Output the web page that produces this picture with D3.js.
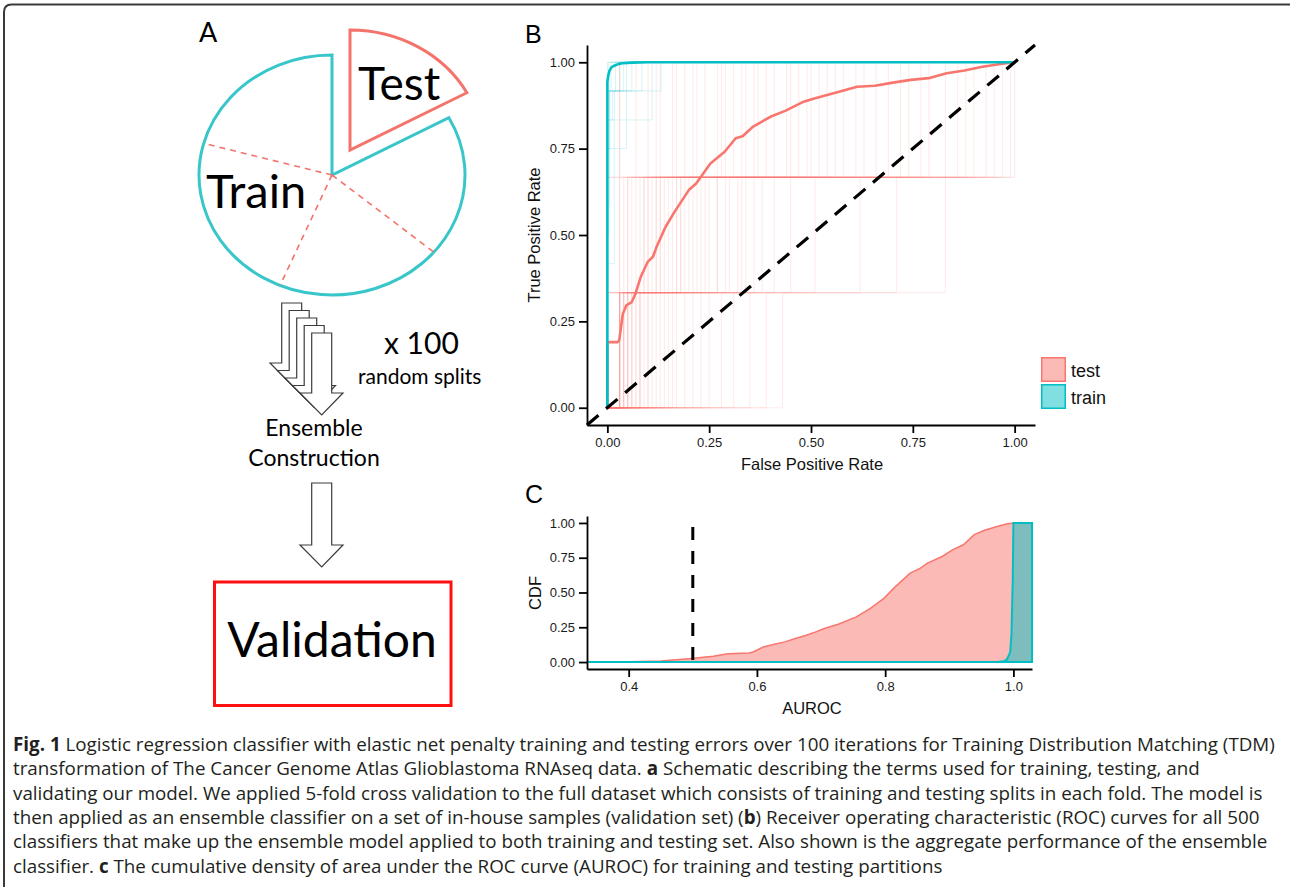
<!DOCTYPE html>
<html>
<head>
<meta charset="utf-8">
<script src="https://cdn.jsdelivr.net/npm/d3@7"></script>
<style>
  body { margin: 0; background: #fff; }
  svg { display: block; }
  text { white-space: pre; }
</style>
</head>
<body>
<svg id="fig" width="1290" height="887"></svg>
<script>
// ---------- data ----------
// panel A: fold boundaries of the pie, degrees clockwise from 12 o'clock
var foldBounds = [0, 61.5, 130, 203, 285.3, 360];
var splitCount = 5;

// panel B: ensemble ROC curves
var testFpr = [0, 0, 0.025, 0.029, 0.038, 0.047, 0.06, 0.069, 0.082, 0.099, 0.112, 0.121, 0.143, 0.165, 0.2, 0.218, 0.253, 0.288, 0.315, 0.332, 0.358, 0.402, 0.438, 0.482, 0.508, 0.569, 0.613, 0.657, 0.701, 0.745, 0.789, 0.833, 0.877, 0.921, 0.965, 1.0];
var testTpr = [0, 0.19, 0.19, 0.195, 0.272, 0.297, 0.306, 0.33, 0.379, 0.422, 0.437, 0.466, 0.524, 0.567, 0.63, 0.649, 0.707, 0.741, 0.78, 0.786, 0.814, 0.843, 0.86, 0.886, 0.895, 0.915, 0.929, 0.932, 0.941, 0.949, 0.954, 0.968, 0.976, 0.987, 0.995, 1.0];
var trainFpr = [0, 0, 0.002, 0.005, 0.01, 0.017, 0.025, 0.037, 0.06, 0.1, 1.0];
var trainTpr = [0, 0.943, 0.96, 0.975, 0.985, 0.99, 0.994, 0.997, 0.999, 1.0, 1.0];

// individual test classifiers: FPR where TPR steps to 1/3, 2/3, 1
var testCurves = [
  [0, 0, 0.03], [0, 0, 0.13], [0, 0.03, 0.07], [0, 0.05, 0.21], [0, 0.10, 0.36], [0, 0.17, 0.58],
  [0.03, 0.03, 0.03], [0.03, 0.04, 0.10], [0.03, 0.06, 0.24], [0.03, 0.09, 0.41], [0.03, 0.13, 0.19],
  [0.03, 0.20, 0.66], [0.03, 0.33, 0.90], [0.04, 0.05, 0.16], [0.04, 0.08, 0.31], [0.04, 0.15, 0.47],
  [0.04, 0.27, 0.74], [0.05, 0.07, 0.12], [0.05, 0.11, 0.29], [0.05, 0.19, 0.52], [0.05, 0.12, 0.99],
  [0.06, 0.09, 0.22], [0.06, 0.14, 0.39], [0.06, 0.38, 0.97], [0.07, 0.10, 0.17], [0.07, 0.22, 0.61],
  [0.08, 0.12, 0.34], [0.08, 0.29, 0.45], [0.08, 0.18, 0.95], [0.09, 0.16, 0.27], [0.10, 0.13, 0.50],
  [0.10, 0.25, 0.83], [0.11, 0.18, 0.37], [0.12, 0.21, 0.28], [0.13, 0.32, 0.69], [0.14, 0.17, 0.44],
  [0.15, 0.24, 0.56], [0.16, 0.41, 0.79], [0.17, 0.23, 0.33], [0.19, 0.30, 0.63], [0.21, 0.36, 0.49],
  [0.23, 0.27, 0.86], [0.25, 0.45, 0.72], [0.28, 0.34, 0.54], [0.31, 0.51, 0.93], [0.35, 0.62, 0.77],
  [0.39, 0.71, 0.88], [0.43, 0.83, 1.00]
];
// individual train classifiers: [FPR, TPR reached] steps
var trainCurves = [
  [[0, 0.917], [0.132, 1]],
  [[0, 0.833], [0.11, 1]],
  [[0, 0.75], [0.047, 1]],
  [[0, 0.417], [0.017, 0.917], [0.03, 1]],
  [[0, 0.5], [0.004, 1]],
  [[0, 0.583], [0.005, 0.917], [0.02, 1]],
  [[0, 0.917], [0.009, 1]],
  [[0, 0.833], [0.013, 0.917], [0.06, 1]],
  [[0, 0.917], [0.04, 1]],
  [[0, 0.75], [0.006, 0.917], [0.085, 1]],
  [[0, 1]]
];
var rocTicks = [0, 0.25, 0.5, 0.75, 1];

// panel C: CDF of AUROC
var aurocTest = [0.335, 0.40, 0.45, 0.494, 0.532, 0.555, 0.588, 0.594, 0.61, 0.627, 0.644, 0.66, 0.677, 0.688, 0.705, 0.727, 0.755, 0.777, 0.798, 0.816, 0.839, 0.855, 0.866, 0.889, 0.905, 0.922, 0.939, 0.955, 0.972, 0.989, 1.0, 1.029];
var cdfTest = [0, 0.003, 0.008, 0.024, 0.041, 0.06, 0.065, 0.072, 0.108, 0.128, 0.145, 0.169, 0.193, 0.21, 0.241, 0.272, 0.325, 0.386, 0.458, 0.542, 0.639, 0.675, 0.711, 0.759, 0.807, 0.843, 0.916, 0.947, 0.971, 0.993, 1.0, 1.0];
var aurocTrain = [0.335, 0.975, 0.985, 0.99, 0.995, 0.997, 0.999, 1.0, 1.029];
var cdfTrain = [0, 0, 0.005, 0.02, 0.07, 0.2, 0.6, 1.0, 1.0];
var aurocTicks = [0.4, 0.6, 0.8, 1.0];
var cdfTicks = [0, 0.25, 0.5, 0.75, 1];
var chanceAuroc = 0.5;

var legendLabels = ["test", "train"];

var captionLines = [
  [["Fig. 1", 1], [" Logistic regression classifier with elastic net penalty training and testing errors over 100 iterations for Training Distribution Matching (TDM)", 0]],
  [["transformation of The Cancer Genome Atlas Glioblastoma RNAseq data. ", 0], ["a", 1], [" Schematic describing the terms used for training, testing, and", 0]],
  [["validating our model. We applied 5-fold cross validation to the full dataset which consists of training and testing splits in each fold. The model is", 0]],
  [["then applied as an ensemble classifier on a set of in-house samples (validation set) (", 0], ["b", 1], [") Receiver operating characteristic (ROC) curves for all 500", 0]],
  [["classifiers that make up the ensemble model applied to both training and testing set. Also shown is the aggregate performance of the ensemble", 0]],
  [["classifier. ", 0], ["c", 1], [" The cumulative density of area under the ROC curve (AUROC) for training and testing partitions", 0]]
];

// ---------- drawing ----------
var red = "#F8766D", teal = "#00BFC4";
var pieTeal = "#38C6CA", pieRed = "#F4736A";
var svg = d3.select("#fig");
var sans = "Liberation Sans, Arial, sans-serif";
var calib = "Lato, sans-serif";

// outer frame
svg.append("path")
  .attr("d", "M4,887 V12 Q4,4.5 11.5,4.5 H1290")
  .attr("fill", "none").attr("stroke", "#3a3a3a").attr("stroke-width", 2);

// ===== panel A =====
svg.append("text").attr("x", 199).attr("y", 42).text("A")
  .style("font-family", calib).style("font-size", "27px");

var rx = 133, ry = 120, pcx = 332, pcy = 175;
var deg = Math.PI / 180;
var arc = d3.arc().innerRadius(0).outerRadius(ry);

svg.append("g").attr("transform", "translate(" + pcx + "," + pcy + ") scale(" + (rx / ry) + ",1)")
  .append("path")
  .attr("d", arc({startAngle: foldBounds[1] * deg, endAngle: foldBounds[5] * deg}))
  .attr("fill", "none").attr("stroke", pieTeal).attr("stroke-width", 3)
  .attr("vector-effect", "non-scaling-stroke");

svg.append("g").attr("transform", "translate(" + (pcx + 18) + "," + (pcy - 25) + ") scale(" + (rx / ry) + ",1)")
  .append("path")
  .attr("d", arc({startAngle: foldBounds[0] * deg, endAngle: foldBounds[1] * deg}))
  .attr("fill", "none").attr("stroke", pieRed).attr("stroke-width", 3)
  .attr("stroke-linejoin", "miter")
  .attr("vector-effect", "non-scaling-stroke");

svg.selectAll(".fold").data(foldBounds.slice(2, 5)).enter().append("line")
  .attr("x1", pcx).attr("y1", pcy)
  .attr("x2", function(d) { return pcx + rx * Math.sin(d * deg); })
  .attr("y2", function(d) { return pcy - ry * Math.cos(d * deg); })
  .attr("stroke", pieRed).attr("stroke-width", 1.6).attr("stroke-dasharray", "6,5");

svg.append("text").attr("x", 358).attr("y", 100).text("Test")
  .style("font-family", calib).style("font-size", "46px");
svg.append("text").attr("x", 206).attr("y", 208).text("Train")
  .style("font-family", calib).style("font-size", "47px");

// block arrows
function arrowPath(dx, dy, top, base, tip) {
  var p = d3.path();
  p.moveTo(311.7 + dx, top + dy);
  p.lineTo(331.7 + dx, top + dy);
  p.lineTo(331.7 + dx, base + dy);
  p.lineTo(343 + dx, base + dy);
  p.lineTo(321.7 + dx, tip + dy);
  p.lineTo(300 + dx, base + dy);
  p.lineTo(311.7 + dx, base + dy);
  p.closePath();
  return p.toString();
}
var stack = d3.range(splitCount - 1, -1, -1);
svg.selectAll(".stackArrow").data(stack).enter().append("path")
  .attr("d", function(k) { return arrowPath(-7.5 * k, -7.5 * k, 333, 393, 415); })
  .attr("fill", "#fff").attr("stroke", "#3c3c3c").attr("stroke-width", 1.2);
svg.append("path").attr("d", arrowPath(0, 0, 483, 545, 567))
  .attr("fill", "#fff").attr("stroke", "#3c3c3c").attr("stroke-width", 1.2);

svg.append("text").attr("x", 384).attr("y", 354).text("x 100")
  .style("font-family", calib).style("font-size", "30px");
svg.append("text").attr("x", 358).attr("y", 384).text("random splits")
  .style("font-family", calib).style("font-size", "21px");
svg.append("text").attr("x", 314).attr("y", 436).attr("text-anchor", "middle").text("Ensemble")
  .style("font-family", calib).style("font-size", "23px");
svg.append("text").attr("x", 314).attr("y", 466).attr("text-anchor", "middle").text("Construction")
  .style("font-family", calib).style("font-size", "23px");

svg.append("rect").attr("x", 214.5).attr("y", 582).attr("width", 236.5).attr("height", 123.5)
  .attr("fill", "none").attr("stroke", "#FF1010").attr("stroke-width", 3);
svg.append("text").attr("x", 332).attr("y", 657).attr("text-anchor", "middle").text("Validation")
  .style("font-family", calib).style("font-size", "48px");

// ===== panel B =====
var bx = d3.scaleLinear().domain([-0.05, 1.05]).range([587, 1035]);
var by = d3.scaleLinear().domain([-0.05, 1.05]).range([425, 45]);

function styleAxis(g) {
  g.select(".domain").attr("stroke", "#000").attr("stroke-width", 1.8);
  g.selectAll(".tick line").attr("stroke", "#000").attr("stroke-width", 1.8);
  g.selectAll(".tick text").attr("fill", "#1a1a1a")
    .style("font-family", sans).style("font-size", "13px");
}

svg.append("text").attr("x", 525).attr("y", 42.5).text("B")
  .style("font-family", sans).style("font-size", "25px");

var rocLine = d3.line().x(function(d) { return bx(d[0]); }).y(function(d) { return by(d[1]); });

function testSteps(c) {
  return [[0, 0], [c[0], 0], [c[0], 1 / 3], [c[1], 1 / 3], [c[1], 2 / 3], [c[2], 2 / 3], [c[2], 1], [1, 1]];
}
function trainSteps(c) {
  var pts = [[0, 0]], prev = 0;
  c.forEach(function(s) { pts.push([s[0], prev]); pts.push([s[0], s[1]]); prev = s[1]; });
  pts.push([1, prev]);
  return pts;
}

svg.append("g").selectAll("path").data(testCurves).enter().append("path")
  .attr("d", function(c) { return rocLine(testSteps(c)); })
  .attr("fill", "none").attr("stroke", red).attr("stroke-opacity", 0.13).attr("stroke-width", 1.2);
svg.append("g").selectAll("path").data(trainCurves).enter().append("path")
  .attr("d", function(c) { return rocLine(trainSteps(c)); })
  .attr("fill", "none").attr("stroke", teal).attr("stroke-opacity", 0.16).attr("stroke-width", 1);

svg.append("path").attr("d", rocLine(d3.zip(testFpr, testTpr)))
  .attr("fill", "none").attr("stroke", red).attr("stroke-width", 2.6).attr("stroke-linejoin", "round");
svg.append("path").attr("d", rocLine(d3.zip(trainFpr, trainTpr)))
  .attr("fill", "none").attr("stroke", teal).attr("stroke-width", 2.6).attr("stroke-linejoin", "round");

svg.append("line")
  .attr("x1", bx(-0.05)).attr("y1", by(-0.05)).attr("x2", bx(1.05)).attr("y2", by(1.05))
  .attr("stroke", "#000").attr("stroke-width", 3.2).attr("stroke-dasharray", "15,10");

svg.append("g").attr("transform", "translate(0,425)")
  .call(d3.axisBottom(bx).tickValues(rocTicks).tickFormat(d3.format(".2f")).tickSize(8).tickSizeOuter(0).tickPadding(5))
  .call(styleAxis);
svg.append("g").attr("transform", "translate(587,0)")
  .call(d3.axisLeft(by).tickValues(rocTicks).tickFormat(d3.format(".2f")).tickSize(8).tickSizeOuter(0).tickPadding(4))
  .call(styleAxis);

svg.append("text").attr("x", 812).attr("y", 470).attr("text-anchor", "middle").text("False Positive Rate")
  .style("font-family", sans).style("font-size", "16.5px").attr("fill", "#111");
svg.append("text").attr("transform", "translate(540,235) rotate(-90)").attr("text-anchor", "middle")
  .text("True Positive Rate").style("font-family", sans).style("font-size", "16.5px").attr("fill", "#111");

// legend
var lg = svg.append("g").selectAll("g").data(legendLabels).enter().append("g")
  .attr("transform", function(d, i) { return "translate(1041," + (357 + i * 27) + ")"; });
lg.append("rect").attr("x", 0.75).attr("y", 0.75).attr("width", 23.5).attr("height", 23.5)
  .attr("fill", function(d, i) { return i ? teal : red; }).attr("fill-opacity", 0.5)
  .attr("stroke", function(d, i) { return i ? teal : red; }).attr("stroke-width", 1.5);
lg.append("text").attr("x", 30).attr("y", 19.5).text(function(d) { return d; })
  .style("font-family", sans).style("font-size", "18px").attr("fill", "#111");

// ===== panel C =====
var cx = d3.scaleLinear().domain([0.335, 1.029]).range([587, 1032]);
var cy = d3.scaleLinear().domain([-0.05, 1.05]).range([669, 516]);

svg.append("text").attr("x", 525).attr("y", 503).text("C")
  .style("font-family", sans).style("font-size", "25px");

var cdfArea = d3.area()
  .x(function(d) { return cx(d[0]); })
  .y0(cy(0))
  .y1(function(d) { return cy(d[1]); });

svg.append("path").attr("d", cdfArea(d3.zip(aurocTest, cdfTest)))
  .attr("fill", red).attr("fill-opacity", 0.5).attr("stroke", red).attr("stroke-width", 1.5);
svg.append("path").attr("d", cdfArea(d3.zip(aurocTrain, cdfTrain)))
  .attr("fill", teal).attr("fill-opacity", 0.5).attr("stroke", teal).attr("stroke-width", 2);

svg.append("line")
  .attr("x1", cx(chanceAuroc)).attr("x2", cx(chanceAuroc)).attr("y1", cy(1.05)).attr("y2", cy(-0.05))
  .attr("stroke", "#000").attr("stroke-width", 3).attr("stroke-dasharray", "13,11").attr("stroke-dashoffset", 13);

svg.append("g").attr("transform", "translate(0,669)")
  .call(d3.axisBottom(cx).tickValues(aurocTicks).tickFormat(d3.format(".1f")).tickSize(8).tickSizeOuter(0).tickPadding(5))
  .call(styleAxis);
svg.append("g").attr("transform", "translate(587,0)")
  .call(d3.axisLeft(cy).tickValues(cdfTicks).tickFormat(d3.format(".2f")).tickSize(8).tickSizeOuter(0).tickPadding(4))
  .call(styleAxis);

svg.append("text").attr("x", 812).attr("y", 714).attr("text-anchor", "middle").text("AUROC")
  .style("font-family", sans).style("font-size", "16.5px").attr("fill", "#111");
svg.append("text").attr("transform", "translate(541,593) rotate(-90)").attr("text-anchor", "middle")
  .text("CDF").style("font-family", sans).style("font-size", "16.5px").attr("fill", "#111");

// ===== caption =====
var cap = svg.append("g").style("font-family", "Open Sans, sans-serif").style("font-size", "18.8px").attr("fill", "#231f20");
captionLines.forEach(function(line, i) {
  var t = cap.append("text").attr("x", 13).attr("y", 751 + i * 24.3);
  line.forEach(function(part) {
    t.append("tspan").text(part[0]).style("font-weight", part[1] ? "bold" : "normal");
  });
});
</script>
</body>
</html>
